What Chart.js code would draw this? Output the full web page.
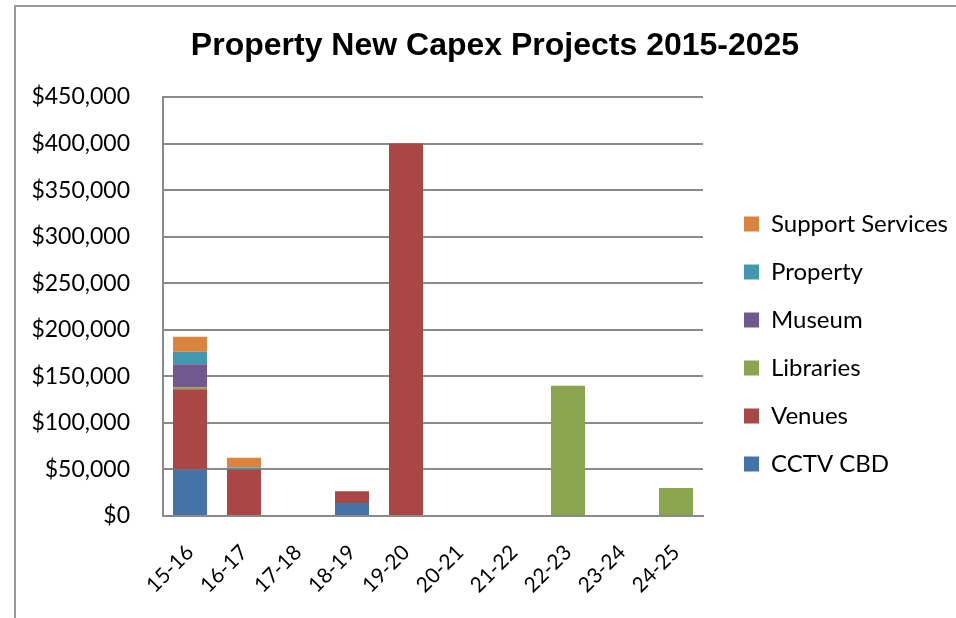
<!DOCTYPE html>
<html>
<head>
<meta charset="utf-8">
<title>Property New Capex Projects 2015-2025</title>
<script src="https://cdn.jsdelivr.net/npm/chart.js@4/dist/chart.umd.min.js"></script>
<style>
    html, body { margin: 0; padding: 0; background: #fff; overflow: hidden; }
    #frame {
        position: absolute;
        left: 14px;
        top: 5px;
        width: 1000px;
        height: 700px;
        border-left: 2px solid #999;
        border-top: 2px solid #999;
    }
    #graphique { position: absolute; left: 0; top: 0; }
</style>
</head>
<body>
<div id="frame"></div>
<canvas id="graphique" width="956" height="618"></canvas>
<script>
// Données
const categories = ["15-16", "16-17", "17-18", "18-19", "19-20", "20-21", "21-22", "22-23", "23-24", "24-25"];
const cctvCbd         = [50000, 0,     0, 14000, 0,      0, 0, 0,      0, 0];
const venues          = [86000, 50000, 0, 12500, 400000, 0, 0, 0,      0, 0];
const libraries       = [2000,  0,     0, 0,     0,      0, 0, 140000, 0, 30000];
const museum          = [25000, 0,     0, 0,     0,      0, 0, 0,      0, 0];
const property        = [13500, 2000,  0, 0,     0,      0, 0, 0,      0, 0];
const supportServices = [16000, 10500, 0, 0,     0,      0, 0, 0,      0, 0];

const yTicks = { min: 0, max: 450000, step: 50000 };

const font = "Lato";
const gridColor = "#8a8a8a";

// La légende de Chart.js est collée à la zone de tracé et rogne son texte :
// on la décale un peu et on l'élargit jusqu'au bord du canvas.
const legendBox = {
    id: "legendBox",
    afterLayout(chart) {
        const lg = chart.legend;
        lg.left = chart.chartArea.right + 17;
        lg.right = chart.width;
        lg.width = lg.right - lg.left;
    }
};

new Chart(document.getElementById("graphique"), {
    type: "bar",
    plugins: [legendBox],
    data: {
        labels: categories,
        datasets: [
            { label: "CCTV CBD", data: cctvCbd, backgroundColor: "#4572A7" },
            { label: "Venues", data: venues, backgroundColor: "#AA4643" },
            { label: "Libraries", data: libraries, backgroundColor: "#89A54E" },
            { label: "Museum", data: museum, backgroundColor: "#71588F" },
            { label: "Property", data: property, backgroundColor: "#4198AF" },
            { label: "Support Services", data: supportServices, backgroundColor: "#DB843D" }
        ]
    },
    options: {
        responsive: false,
        animation: false,
        devicePixelRatio: 1,
        datasets: { bar: { barPercentage: 0.63, categoryPercentage: 1, borderWidth: 0 } },
        layout: { padding: { left: 18, right: -16, top: 27, bottom: -43 } },
        plugins: {
            title: {
                display: true,
                text: "Property New Capex Projects 2015-2025",
                color: "#000",
                font: { family: "'Liberation Sans', Arial, sans-serif", size: 32, weight: "bold", lineHeight: 1.2 },
                padding: { top: 0, bottom: 31.6 }
            },
            legend: {
                position: "right",
                reverse: true,
                labels: {
                    color: "#000",
                    font: { family: font, size: 24 },
                    boxWidth: 15,
                    boxHeight: 15,
                    padding: 24
                }
            },
            tooltip: { enabled: false }
        },
        scales: {
            x: {
                stacked: true,
                grid: { display: false },
                border: { display: true, color: gridColor, width: 2 },
                ticks: {
                    color: "#000",
                    font: { family: font, size: 21 },
                    minRotation: 45,
                    maxRotation: 45,
                    padding: 16
                },
                afterFit: s => { s.height = 145; }
            },
            y: {
                stacked: true,
                min: yTicks.min,
                max: yTicks.max,
                grid: { color: gridColor, lineWidth: 2, drawTicks: false },
                border: { display: true, color: gridColor, width: 2 },
                ticks: {
                    stepSize: yTicks.step,
                    color: "#000",
                    font: { family: font, size: 23 },
                    padding: 33,
                    callback: v => "$" + v.toLocaleString("en-US")
                },
                afterFit: s => { s.width = 145; }
            },
            // axe vide à droite : réserve la place de la légende
            spacer: {
                position: "right",
                display: true,
                grid: { display: false, drawTicks: false },
                border: { display: false },
                ticks: { display: false },
                afterFit: s => { s.width = 110; }
            }
        }
    }
});
</script>
</body>
</html>
